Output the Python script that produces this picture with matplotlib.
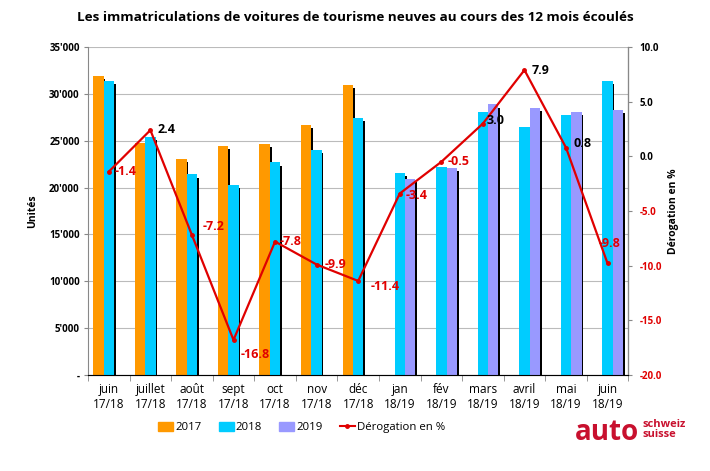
import numpy as np
import matplotlib
matplotlib.use("Agg")
import matplotlib.pyplot as plt
from matplotlib.patches import Patch
from matplotlib.lines import Line2D
from matplotlib.ticker import FixedLocator

plt.rcParams['font.family'] = ['Open Sans', 'DejaVu Sans']

months = ["juin\n17/18", "juillet\n17/18", "août\n17/18", "sept\n17/18", "oct\n17/18",
          "nov\n17/18", "déc\n17/18", "jan\n18/19", "fév\n18/19", "mars\n18/19",
          "avril\n18/19", "mai\n18/19", "juin\n18/19"]
nan = np.nan
v2017 = [31900, 24800, 23100, 24450, 24650, 26700, 31000, nan, nan, nan, nan, nan, nan]
v2018 = [31400, 25400, 21400, 20300, 22700, 24000, 27450, 21600, 22250, 28050, 26450, 27800, 31400]
v2019 = [nan, nan, nan, nan, nan, nan, nan, 20900, 22100, 28900, 28550, 28050, 28300]
derog = [-1.4, 2.4, -7.2, -16.8, -7.8, -9.9, -11.4, -3.4, -0.5, 3.0, 7.9, 0.8, -9.8]
left_ticks = [0, 5000, 10000, 15000, 20000, 25000, 30000, 35000]
left_labels = ["-", "5'000", "10'000", "15'000", "20'000", "25'000", "30'000", "35'000"]
right_ticks = [-20, -15, -10, -5, 0, 5, 10]

c2017 = "#FF9900"
c2018 = "#00CCFF"
c2019 = "#9999FF"
cred = "#E00000"

fig = plt.figure(figsize=(7.1, 4.71), dpi=100)
ax = fig.add_axes([0.124, 0.204, 0.761, 0.696])
ax2 = ax.twinx()

x = np.arange(len(months))
w = 0.25
z = 2
for vals, off, col in [(v2017, -w, c2017), (v2018, 0, c2018), (v2019, w, c2019)]:
    vals = np.array(vals, dtype=float)
    ax.bar(x + off + 0.04, vals - 350, width=w, color="black", zorder=z)
    ax.bar(x + off, vals, width=w, color=col, zorder=z + 0.5)
    z += 1

ax.set_xlim(-0.5, len(months) - 0.5)
ax.set_ylim(0, 35000)
ax.yaxis.set_major_locator(FixedLocator(left_ticks))
ax.set_yticklabels(left_labels, fontsize=7, fontweight='bold')
ax.grid(axis='y', color='#bbbbbb', linewidth=0.8, zorder=0)
ax.set_axisbelow(True)
ax.set_xticks(x)
ax.set_xticklabels(months, fontsize=8.5)
ax.xaxis.set_minor_locator(FixedLocator(np.arange(-0.5, len(months), 1)))
ax.tick_params(axis='x', which='major', length=0, pad=6)
ax.tick_params(axis='x', which='minor', length=4, color='#888888')
ax.tick_params(axis='y', length=3, color='#888888', pad=3)
ax.set_ylabel("Unités", fontsize=7.5, fontweight='bold', labelpad=8)
for s in ['top']:
    ax.spines[s].set_visible(False)
    ax2.spines[s].set_visible(False)
ax.spines['left'].set_color('#888888')
ax.spines['bottom'].set_color('#888888')
ax2.spines['right'].set_color('#888888')
ax2.spines['left'].set_visible(False)

ax2.set_ylim(-20, 10)
ax2.yaxis.set_major_locator(FixedLocator(right_ticks))
ax2.set_yticklabels([f"{t:.1f}" for t in right_ticks], fontsize=7, fontweight='bold')
for lab, t in zip(ax2.get_yticklabels(), right_ticks):
    lab.set_color(cred if t < 0 else 'black')
ax2.tick_params(axis='y', length=3, color='#888888', pad=5)
ax2.set_ylabel("Dérogation en %", fontsize=7.5, fontweight='bold', labelpad=4)

ax2.plot(x, derog, color=cred, linewidth=1.6, marker='o', markersize=2.5, zorder=10)

offsets = [(6, 0), (7, 1), (11, 9), (7, -15), (5, 0), (8, 0), (12, -6),
           (6, -2), (6, 0), (4, 3), (7, 0), (7, 4), (-9, 20)]
for xi, v, (dx, dy) in zip(x, derog, offsets):
    ax2.annotate(f"{v:.1f}", (xi, v), xytext=(dx, dy), textcoords='offset pixels',
                 ha='left', va='center', fontsize=9, fontweight='bold',
                 color=cred if v < 0 else 'black', zorder=11)

fig.text(0.5, 0.963, "Les immatriculations de voitures de tourisme neuves au cours des 12 mois écoulés",
         ha='center', va='center', fontsize=9.7, fontweight='bold')

handles = [Patch(color=c2017, label="2017"), Patch(color=c2018, label="2018"),
           Patch(color=c2019, label="2019"),
           Line2D([0], [0], color=cred, marker='o', markersize=2.5, linewidth=1.5, label="Dérogation en %")]
fig.legend(handles=handles, loc='center', bbox_to_anchor=(0.425, 0.092), ncol=4, frameon=False,
           fontsize=8.2, handlelength=1.3, handleheight=0.8, columnspacing=1.5, handletextpad=0.2)

fig.text(0.81, 0.082, "auto", color="#C8102E", fontsize=20, fontweight='bold', ha='left', va='center')
fig.text(0.905, 0.088, "schweiz\nsuisse", color="#C8102E", fontsize=8, fontweight='bold',
         ha='left', va='center', linespacing=0.85)

fig.savefig("out.png", dpi=100)
